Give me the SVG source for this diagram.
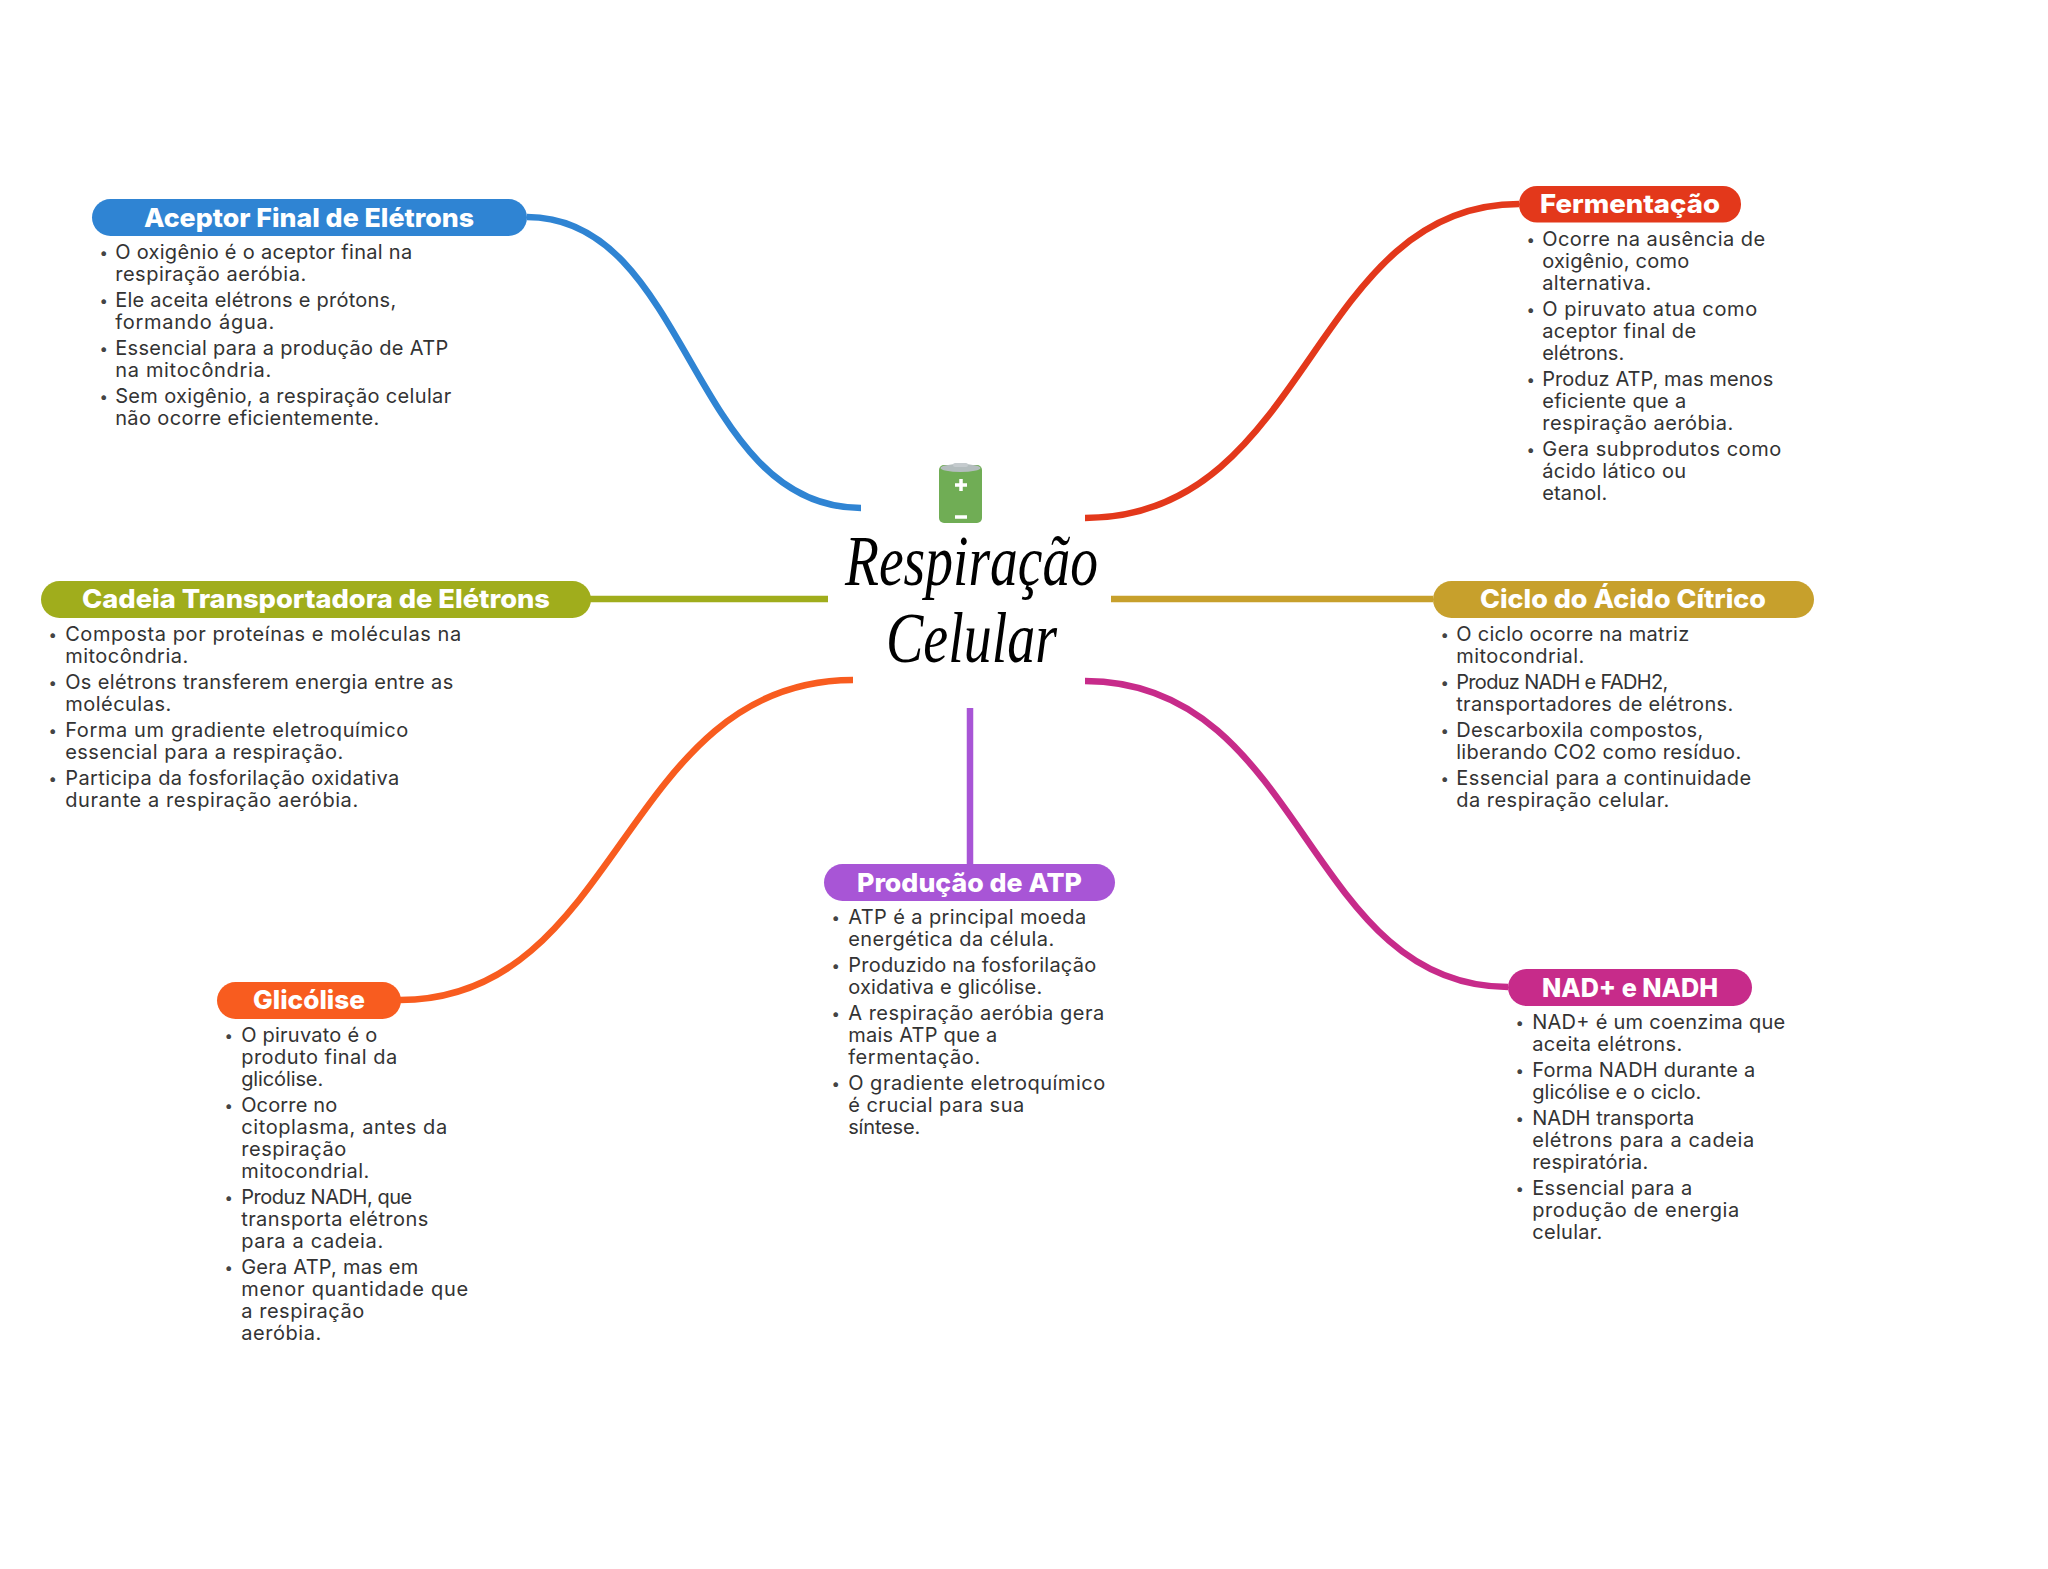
<svg xmlns="http://www.w3.org/2000/svg" width="2048" height="1569" viewBox="0 0 2048 1569">
<style>
.b{font-family:Inter,"Noto Sans","Liberation Sans",sans-serif;font-size:20px;fill:#333333;transform:translate(-0.8px,-0.4px)}
.d{font-family:Inter,"Noto Sans","Liberation Sans",sans-serif;font-size:15px;fill:#444444;transform:translate(-0.5px,-0.8px)}
.h{font-family:Inter,"Noto Sans","Liberation Sans",sans-serif;font-size:26px;font-weight:800;fill:#ffffff;transform:translate(0,1px)}
.t{font-family:"Liberation Serif",serif;font-style:italic;font-size:72px;fill:#000000}
.c{fill:none;stroke-width:6.500}
</style>
<rect width="2048" height="1569" fill="#ffffff"/>
<g id="connectors">
<path class="c" stroke="#2F84D3" d="M527 217C690 217 690 508 861 508"/>
<path class="c" stroke="#E3381B" d="M1085 518C1310 518 1310 204 1519 204"/>
<path class="c" stroke="#A0AD1C" d="M590 599H828"/>
<path class="c" stroke="#C7A02C" d="M1111 599H1433"/>
<path class="c" stroke="#F85C1F" d="M400 1000C622 1000 622 680 853 680"/>
<path class="c" stroke="#A855D6" d="M970 708V864"/>
<path class="c" stroke="#C72B8A" d="M1085 681C1305 681 1305 987 1508 987"/>
</g>
<g id="center">
<rect x="939" y="465" width="43" height="58" rx="5" fill="#70AD55"/>
<ellipse cx="960.500" cy="468" rx="20" ry="4" fill="#B4BDBE"/>
<rect x="953" y="463" width="15" height="4" rx="2" fill="#C5CBCE"/>
<path d="M961 479V491M955 485H967M955 517H967" stroke="#ffffff" stroke-width="3.500" fill="none"/>
<text class="t" x="845" y="585" textLength="253" lengthAdjust="spacingAndGlyphs">Respiração</text>
<text class="t" x="886" y="662" textLength="171" lengthAdjust="spacingAndGlyphs">Celular</text>
</g>
<g id="aceptor">
<rect x="92" y="199" width="435" height="37" rx="18.500" fill="#2F84D3"/>
<text class="h" x="144" y="226" textLength="330" lengthAdjust="spacingAndGlyphs">Aceptor Final de Elétrons</text>
<text class="d" x="100" y="259">•</text><text class="b" x="116" y="259" textLength="297">O oxigênio é o aceptor final na</text>
<text class="b" x="116" y="281" textLength="191">respiração aeróbia.</text>
<text class="d" x="100" y="307">•</text><text class="b" x="116" y="307" textLength="281">Ele aceita elétrons e prótons,</text>
<text class="b" x="116" y="329" textLength="159">formando água.</text>
<text class="d" x="100" y="355">•</text><text class="b" x="116" y="355" textLength="333">Essencial para a produção de ATP</text>
<text class="b" x="116" y="377" textLength="156">na mitocôndria.</text>
<text class="d" x="100" y="403">•</text><text class="b" x="116" y="403" textLength="336">Sem oxigênio, a respiração celular</text>
<text class="b" x="116" y="425" textLength="264">não ocorre eficientemente.</text>
</g>
<g id="fermentacao">
<rect x="1519" y="186" width="222" height="36.500" rx="18" fill="#E3381B"/>
<text class="h" x="1540" y="212" textLength="180" lengthAdjust="spacingAndGlyphs">Fermentação</text>
<text class="d" x="1527" y="246">•</text><text class="b" x="1543" y="246" textLength="223">Ocorre na ausência de</text>
<text class="b" x="1543" y="268" textLength="147">oxigênio, como</text>
<text class="b" x="1543" y="290" textLength="109">alternativa.</text>
<text class="d" x="1527" y="316">•</text><text class="b" x="1543" y="316" textLength="215">O piruvato atua como</text>
<text class="b" x="1543" y="338" textLength="154">aceptor final de</text>
<text class="b" x="1543" y="360" textLength="82">elétrons.</text>
<text class="d" x="1527" y="386">•</text><text class="b" x="1543" y="386" textLength="231">Produz ATP, mas menos</text>
<text class="b" x="1543" y="408" textLength="144">eficiente que a</text>
<text class="b" x="1543" y="430" textLength="191">respiração aeróbia.</text>
<text class="d" x="1527" y="456">•</text><text class="b" x="1543" y="456" textLength="239">Gera subprodutos como</text>
<text class="b" x="1543" y="478" textLength="144">ácido lático ou</text>
<text class="b" x="1543" y="500" textLength="65">etanol.</text>
</g>
<g id="cadeia">
<rect x="41" y="581" width="550" height="37" rx="18.500" fill="#A0AD1C"/>
<text class="h" x="82" y="607" textLength="468" lengthAdjust="spacingAndGlyphs">Cadeia Transportadora de Elétrons</text>
<text class="d" x="49" y="641">•</text><text class="b" x="66" y="641" textLength="396">Composta por proteínas e moléculas na</text>
<text class="b" x="66" y="663" textLength="123">mitocôndria.</text>
<text class="d" x="49" y="689">•</text><text class="b" x="66" y="689" textLength="388">Os elétrons transferem energia entre as</text>
<text class="b" x="66" y="711" textLength="106">moléculas.</text>
<text class="d" x="49" y="737">•</text><text class="b" x="66" y="737" textLength="343">Forma um gradiente eletroquímico</text>
<text class="b" x="66" y="759" textLength="278">essencial para a respiração.</text>
<text class="d" x="49" y="785">•</text><text class="b" x="66" y="785" textLength="334">Participa da fosforilação oxidativa</text>
<text class="b" x="66" y="807" textLength="293">durante a respiração aeróbia.</text>
</g>
<g id="ciclo">
<rect x="1433" y="581" width="381" height="37" rx="18.500" fill="#C7A02C"/>
<text class="h" x="1480" y="607" textLength="286" lengthAdjust="spacingAndGlyphs">Ciclo do Ácido Cítrico</text>
<text class="d" x="1441" y="641">•</text><text class="b" x="1457" y="641" textLength="233">O ciclo ocorre na matriz</text>
<text class="b" x="1457" y="663" textLength="128">mitocondrial.</text>
<text class="d" x="1441" y="689">•</text><text class="b" x="1457" y="689" textLength="212">Produz NADH e FADH2,</text>
<text class="b" x="1457" y="711" textLength="277">transportadores de elétrons.</text>
<text class="d" x="1441" y="737">•</text><text class="b" x="1457" y="737" textLength="247">Descarboxila compostos,</text>
<text class="b" x="1457" y="759" textLength="285">liberando CO2 como resíduo.</text>
<text class="d" x="1441" y="785">•</text><text class="b" x="1457" y="785" textLength="295">Essencial para a continuidade</text>
<text class="b" x="1457" y="807" textLength="213">da respiração celular.</text>
</g>
<g id="glicolise">
<rect x="217" y="982" width="184" height="37" rx="18.500" fill="#F85C1F"/>
<text class="h" x="253" y="1008" textLength="112" lengthAdjust="spacingAndGlyphs">Glicólise</text>
<text class="d" x="225" y="1042">•</text><text class="b" x="242" y="1042" textLength="136">O piruvato é o</text>
<text class="b" x="242" y="1064" textLength="156">produto final da</text>
<text class="b" x="242" y="1086" textLength="82">glicólise.</text>
<text class="d" x="225" y="1112">•</text><text class="b" x="242" y="1112" textLength="96">Ocorre no</text>
<text class="b" x="242" y="1134" textLength="206">citoplasma, antes da</text>
<text class="b" x="242" y="1156" textLength="105">respiração</text>
<text class="b" x="242" y="1178" textLength="128">mitocondrial.</text>
<text class="d" x="225" y="1204">•</text><text class="b" x="242" y="1204" textLength="171">Produz NADH, que</text>
<text class="b" x="242" y="1226" textLength="187">transporta elétrons</text>
<text class="b" x="242" y="1248" textLength="142">para a cadeia.</text>
<text class="d" x="225" y="1274">•</text><text class="b" x="242" y="1274" textLength="177">Gera ATP, mas em</text>
<text class="b" x="242" y="1296" textLength="227">menor quantidade que</text>
<text class="b" x="242" y="1318" textLength="123">a respiração</text>
<text class="b" x="242" y="1340" textLength="80">aeróbia.</text>
</g>
<g id="producao">
<rect x="824" y="864" width="291" height="37" rx="18.500" fill="#A855D6"/>
<text class="h" x="857" y="891" textLength="225" lengthAdjust="spacingAndGlyphs">Produção de ATP</text>
<text class="d" x="832" y="924">•</text><text class="b" x="849" y="924" textLength="238">ATP é a principal moeda</text>
<text class="b" x="849" y="946" textLength="206">energética da célula.</text>
<text class="d" x="832" y="972">•</text><text class="b" x="849" y="972" textLength="248">Produzido na fosforilação</text>
<text class="b" x="849" y="994" textLength="194">oxidativa e glicólise.</text>
<text class="d" x="832" y="1020">•</text><text class="b" x="849" y="1020" textLength="256">A respiração aeróbia gera</text>
<text class="b" x="849" y="1042" textLength="149">mais ATP que a</text>
<text class="b" x="849" y="1064" textLength="132">fermentação.</text>
<text class="d" x="832" y="1090">•</text><text class="b" x="849" y="1090" textLength="257">O gradiente eletroquímico</text>
<text class="b" x="849" y="1112" textLength="176">é crucial para sua</text>
<text class="b" x="849" y="1134" textLength="72">síntese.</text>
</g>
<g id="nad">
<rect x="1508" y="969" width="244" height="37" rx="18.500" fill="#C72B8A"/>
<text class="h" x="1542" y="996" textLength="176" lengthAdjust="spacingAndGlyphs">NAD+ e NADH</text>
<text class="d" x="1516" y="1029">•</text><text class="b" x="1533" y="1029" textLength="253">NAD+ é um coenzima que</text>
<text class="b" x="1533" y="1051" textLength="150">aceita elétrons.</text>
<text class="d" x="1516" y="1077">•</text><text class="b" x="1533" y="1077" textLength="223">Forma NADH durante a</text>
<text class="b" x="1533" y="1099" textLength="169">glicólise e o ciclo.</text>
<text class="d" x="1516" y="1125">•</text><text class="b" x="1533" y="1125" textLength="162">NADH transporta</text>
<text class="b" x="1533" y="1147" textLength="222">elétrons para a cadeia</text>
<text class="b" x="1533" y="1169" textLength="116">respiratória.</text>
<text class="d" x="1516" y="1195">•</text><text class="b" x="1533" y="1195" textLength="160">Essencial para a</text>
<text class="b" x="1533" y="1217" textLength="207">produção de energia</text>
<text class="b" x="1533" y="1239" textLength="70">celular.</text>
</g>
</svg>
